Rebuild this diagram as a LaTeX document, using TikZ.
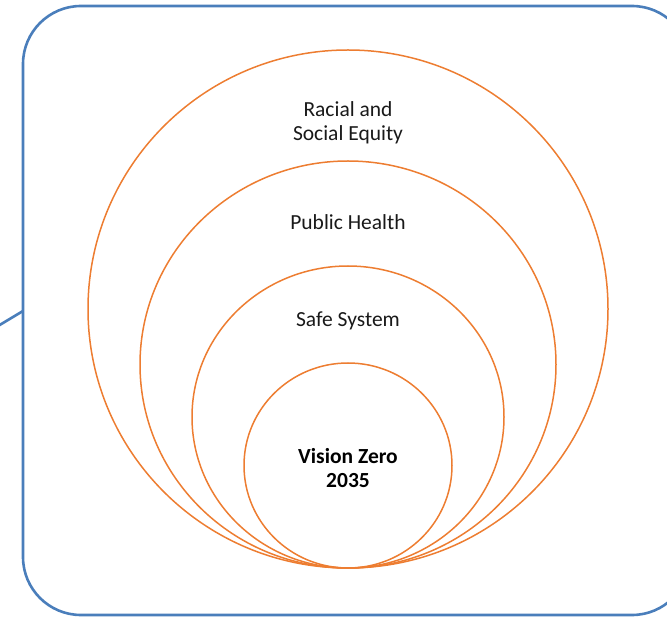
\documentclass[tikz,border=0pt]{standalone}
\usepackage{fontspec}
\setmainfont{Carlito}
\definecolor{frameblue}{RGB}{74,126,187}
\definecolor{ringorange}{RGB}{237,125,49}
\begin{document}
\begin{tikzpicture}[x=1pt,y=-1pt,
  ring/.style={draw=ringorange,line width=1.5pt},
  lbl/.style={font=\fontsize{21.5}{24}\selectfont,align=center,text=black!90}]
\useasboundingbox (0,0) rectangle (667,617);
\begin{scope}
\clip (0,0) rectangle (667,617);
\draw[frameblue,line width=2.6pt,rounded corners=58pt] (23,6) rectangle (690,615);
\coordinate (frameL) at (23,311);
\coordinate (free) at (-2,326);
\draw[frameblue,line width=2.6pt] (free) -- (frameL);
\end{scope}
\draw[ring] (348,309) ellipse[x radius=260,y radius=259];
\draw[ring] (348,364.5) ellipse[x radius=208,y radius=203.5];
\draw[ring] (348,417) ellipse[x radius=156,y radius=151];
\draw[ring] (348,465.5) ellipse[x radius=104,y radius=102.5];
\node[lbl] (rse) at (348,123) {Racial and\\Social Equity};
\node[lbl] (ph) at (348,222) {Public Health};
\node[lbl] (ss) at (348,321) {Safe System};
\node[lbl,font=\fontsize{21.5}{24}\selectfont\bfseries,text=black] (vz) at (348,468) {Vision Zero\\2035};
\end{tikzpicture}
\end{document}
